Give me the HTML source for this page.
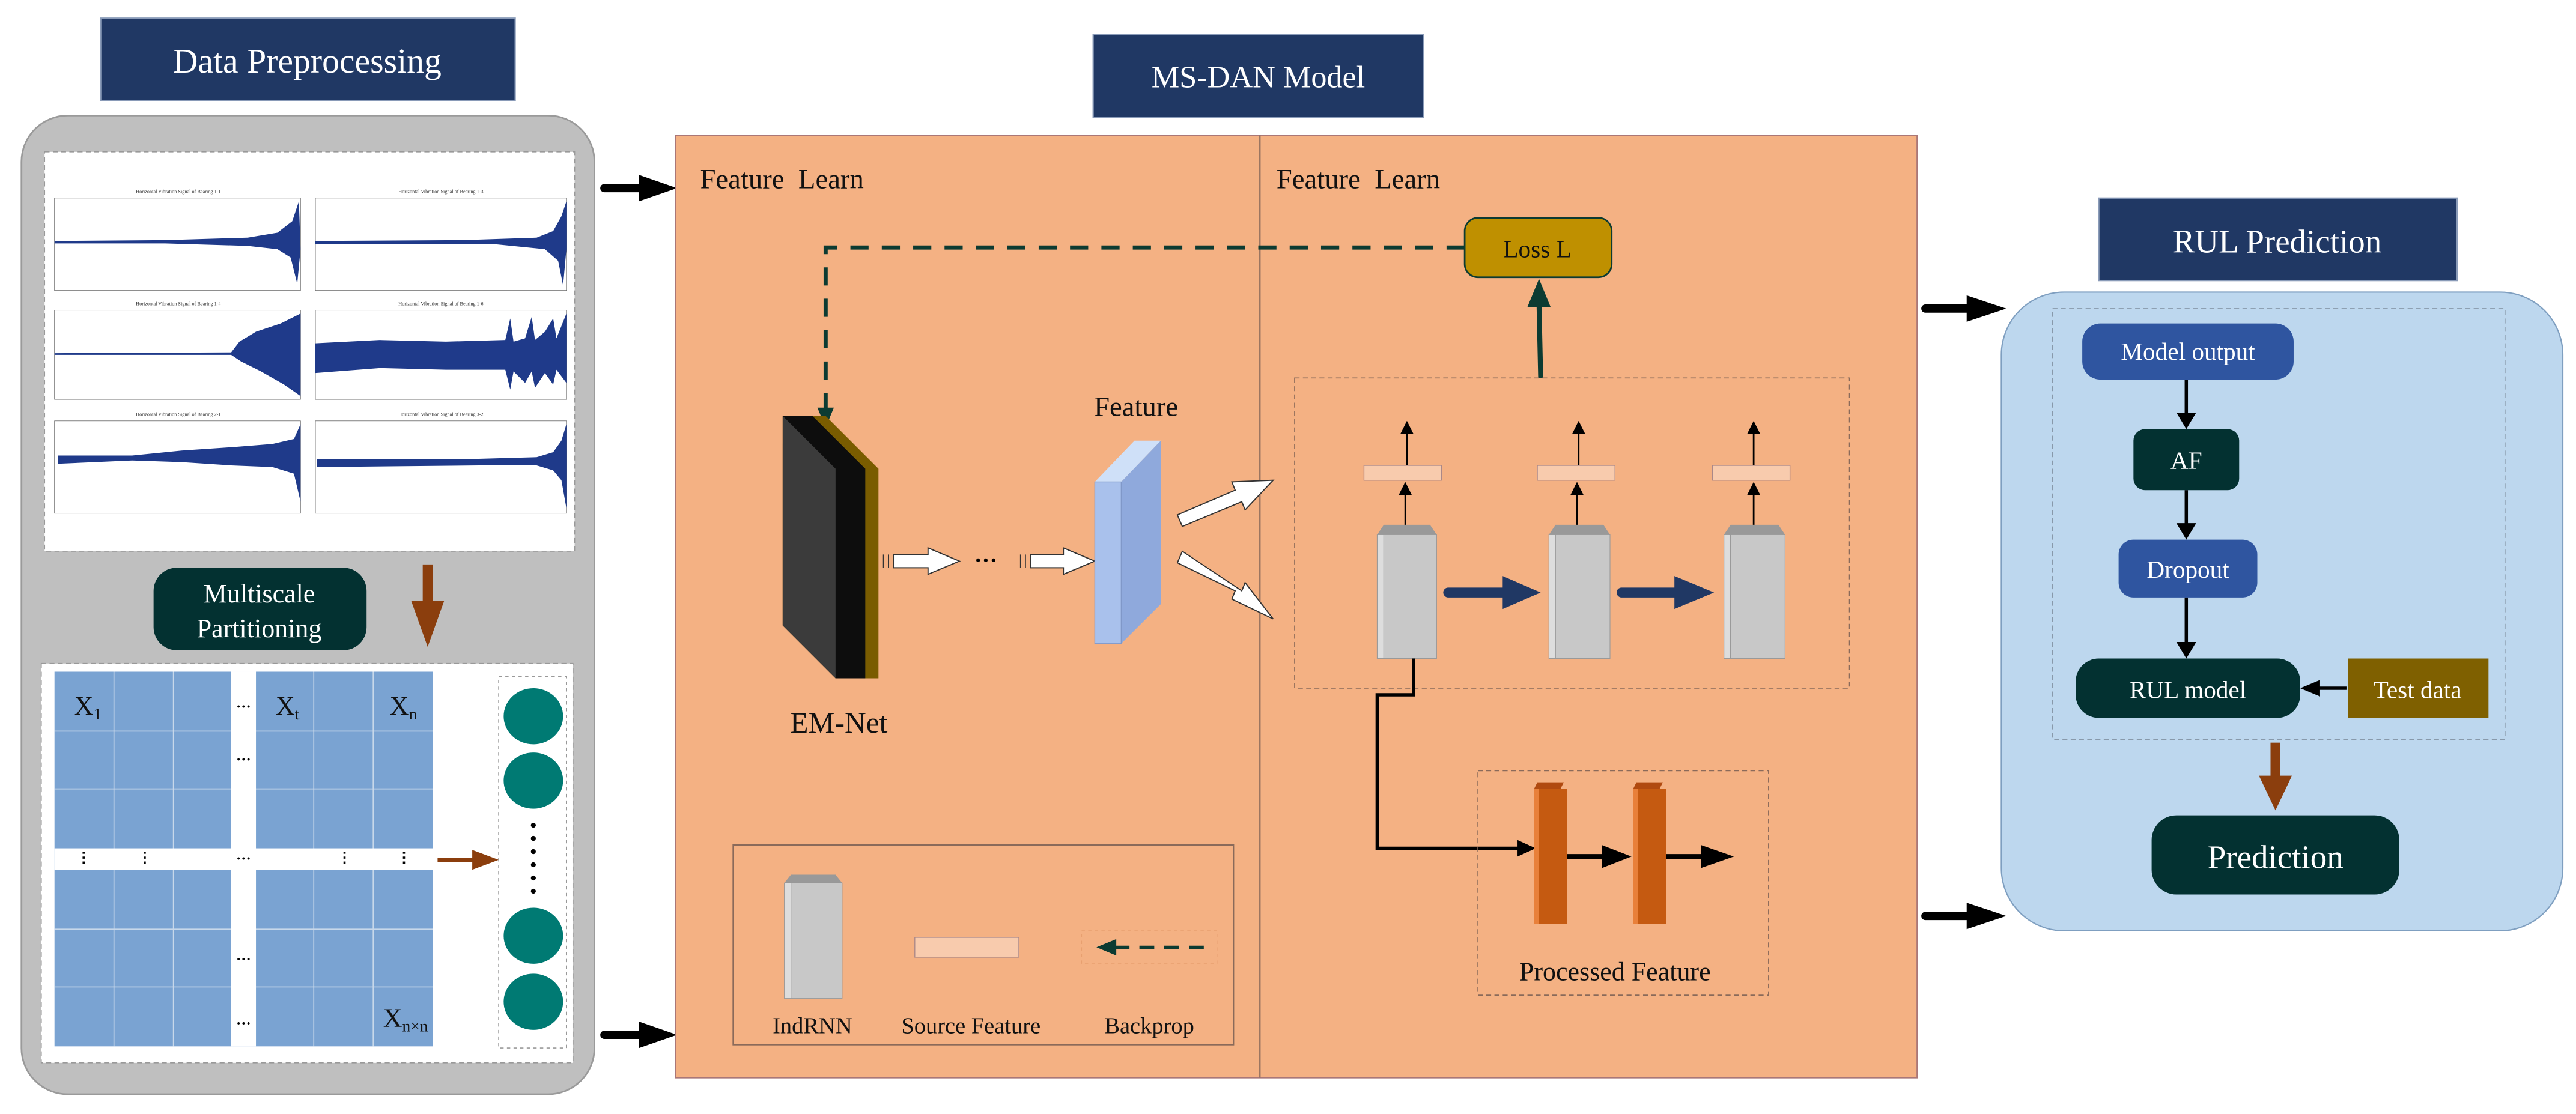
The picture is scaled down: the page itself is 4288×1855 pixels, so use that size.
<!DOCTYPE html>
<html><head><meta charset="utf-8"><style>
html,body{margin:0;padding:0;background:#fff;}
svg{display:block;}
svg text{font-family:"Liberation Serif","DejaVu Serif",serif !important;}
</style></head><body>
<svg width="4288" height="1855" viewBox="0 0 1560 675" preserveAspectRatio="none" xmlns="http://www.w3.org/2000/svg" font-family="Liberation Serif, serif">
<defs>
<marker id="ab" markerWidth="8" markerHeight="8" refX="7" refY="4" orient="auto" markerUnits="userSpaceOnUse"><path d="M0,0 L8,4 L0,8 z" fill="#000"/></marker>
</defs>

<!-- ===== Data Preprocessing ===== -->
<rect x="61" y="11" width="251" height="50" fill="#203864" stroke="#8a9bb8" stroke-width="0.8"/>
<text x="186" y="44" font-size="21" fill="#fff" text-anchor="middle">Data Preprocessing</text>
<rect x="13" y="70" width="347" height="593" rx="28" fill="#bfbfbf" stroke="#9a9a9a" stroke-width="1"/>
<rect x="27" y="92" width="321" height="242" fill="#fff" stroke="#999" stroke-width="0.6" stroke-dasharray="3,2"/>
<g font-size="3" fill="#333" text-anchor="middle">
<text x="108" y="117">Horizontal Vibration Signal of Bearing 1-1</text>
<text x="267" y="117">Horizontal Vibration Signal of Bearing 1-3</text>
<text x="108" y="185">Horizontal Vibration Signal of Bearing 1-4</text>
<text x="267" y="185">Horizontal Vibration Signal of Bearing 1-6</text>
<text x="108" y="252">Horizontal Vibration Signal of Bearing 2-1</text>
<text x="267" y="252">Horizontal Vibration Signal of Bearing 3-2</text>
</g>
<g fill="none" stroke="#666" stroke-width="0.3">
<rect x="33" y="120" width="149" height="56"/><rect x="191" y="120" width="152" height="56"/>
<rect x="33" y="188" width="149" height="54"/><rect x="191" y="188" width="152" height="54"/>
<rect x="33" y="255" width="149" height="56"/><rect x="191" y="255" width="152" height="56"/>
</g>
<g fill="#1f3a8a">
<polygon points="33,146 100,145.5 150,144 168,141 177,134 181,122 182,151 180,172 176,156 168,151 150,149 100,147.5 33,147.5"/>
<polygon points="191,146 280,145.5 325,144 335,140 340,131 343,122 343,151 341,173 338,158 330,151 300,148 191,148"/>
<polygon points="33,214 140,213.5 145,207 155,201 170,196 182,190 182,240 172,233 158,225 146,219 140,215 33,215"/>
<polygon points="191,208 230,206 270,207 306,206 309,193 311,207 318,205 322,192 324,206 330,201 335,193 337,205 343,190 343,232 337,224 335,233 330,226 324,235 322,225 318,232 311,225 309,236 306,224 270,224 230,223 191,226"/>
<polygon points="35,276 80,276 110,273 140,271 165,269 178,266 182,257 182,304 178,287 165,283 140,282 110,280 80,279 35,281"/>
<polygon points="192,278 290,278 325,277 335,274 340,267 343,257 343,308 340,291 335,285 325,282 290,282 192,283"/>
</g>
<!-- Multiscale partitioning -->
<rect x="93" y="344" width="129" height="50" rx="14" fill="#033131"/>
<text x="157" y="365" font-size="16" fill="#fff" text-anchor="middle">Multiscale</text>
<text x="157" y="386" font-size="16" fill="#fff" text-anchor="middle">Partitioning</text>
<rect x="256" y="342" width="6" height="24" fill="#8b3e0d"/>
<polygon points="249,364 269,364 259,392" fill="#8b3e0d"/>
<rect x="25" y="402" width="322" height="242" fill="#fff" stroke="#999" stroke-width="0.6" stroke-dasharray="3,2"/>
<rect x="33" y="407" width="229" height="227" fill="#7aa3d2"/>
<g stroke="#c8d8ea" stroke-width="0.6">
<line x1="69" y1="407" x2="69" y2="634"/><line x1="105" y1="407" x2="105" y2="634"/>
<line x1="190" y1="407" x2="190" y2="634"/><line x1="226" y1="407" x2="226" y2="634"/>
<line x1="33" y1="443" x2="262" y2="443"/><line x1="33" y1="478" x2="262" y2="478"/>
<line x1="33" y1="563" x2="262" y2="563"/><line x1="33" y1="598" x2="262" y2="598"/>
</g>
<rect x="140" y="407" width="15" height="227" fill="#fff"/>
<rect x="33" y="514" width="229" height="13" fill="#fff"/>
<g font-size="16" fill="#111">
<text x="45" y="433">X<tspan font-size="10" dy="3">1</tspan></text>
<text x="167" y="433">X<tspan font-size="10" dy="3">t</tspan></text>
<text x="236" y="433">X<tspan font-size="10" dy="3">n</tspan></text>
<text x="232" y="622">X<tspan font-size="10" dy="3">n×n</tspan></text>
</g>
<g font-size="9" fill="#000" text-anchor="middle" font-weight="bold">
<text x="147.5" y="431">···</text><text x="147.5" y="463">···</text><text x="147.5" y="523">···</text><text x="147.5" y="584">···</text><text x="147.5" y="623">···</text>
</g>
<g fill="#000"><rect x="50" y="516" width="1.3" height="1.3"/><rect x="50" y="519" width="1.3" height="1.3"/><rect x="50" y="522" width="1.3" height="1.3"/>
<rect x="87" y="516" width="1.3" height="1.3"/><rect x="87" y="519" width="1.3" height="1.3"/><rect x="87" y="522" width="1.3" height="1.3"/>
<rect x="208" y="516" width="1.3" height="1.3"/><rect x="208" y="519" width="1.3" height="1.3"/><rect x="208" y="522" width="1.3" height="1.3"/>
<rect x="244" y="516" width="1.3" height="1.3"/><rect x="244" y="519" width="1.3" height="1.3"/><rect x="244" y="522" width="1.3" height="1.3"/></g>
<line x1="265" y1="521" x2="288" y2="521" stroke="#8b3e0d" stroke-width="2.5"/>
<polygon points="286,515 302,521 286,527" fill="#8b3e0d"/>
<rect x="302" y="410" width="41" height="225" fill="#fff" stroke="#999" stroke-width="0.6" stroke-dasharray="2,2"/>
<g fill="#007a73"><ellipse cx="323" cy="434" rx="18" ry="17"/><ellipse cx="323" cy="473" rx="18" ry="17"/><ellipse cx="323" cy="567" rx="18" ry="17"/><ellipse cx="323" cy="607" rx="18" ry="17"/></g>
<g fill="#000"><circle cx="323" cy="500" r="1.5"/><circle cx="323" cy="508" r="1.5"/><circle cx="323" cy="516" r="1.5"/><circle cx="323" cy="524" r="1.5"/><circle cx="323" cy="532" r="1.5"/><circle cx="323" cy="540" r="1.5"/></g>

<!-- arrows into model -->
<line x1="366" y1="114" x2="390" y2="114" stroke="#000" stroke-width="5" stroke-linecap="round"/>
<polygon points="387,106 410,114 387,122" fill="#000"/>
<line x1="366" y1="627" x2="390" y2="627" stroke="#000" stroke-width="5" stroke-linecap="round"/>
<polygon points="387,619 410,627 387,635" fill="#000"/>

<!-- ===== MS-DAN ===== -->
<rect x="662" y="21" width="200" height="50" fill="#203864" stroke="#8a9bb8" stroke-width="0.8"/>
<text x="762" y="53" font-size="19" fill="#fff" text-anchor="middle">MS-DAN Model</text>
<rect x="409" y="82" width="752" height="571" fill="#f4b183" stroke="#a77" stroke-width="0.8"/>
<line x1="763" y1="82" x2="763" y2="653" stroke="#8a6a5a" stroke-width="0.8"/>
<text x="424" y="114" font-size="17" fill="#111" xml:space="preserve">Feature  Learn</text>
<text x="773" y="114" font-size="17" fill="#111" xml:space="preserve">Feature  Learn</text>
<!-- Loss -->
<rect x="887" y="132" width="89" height="36" rx="8" fill="#bf9000" stroke="#0c3b32" stroke-width="1"/>
<text x="931" y="156" font-size="15" fill="#111" text-anchor="middle">Loss L</text>
<polyline points="887,150 500,150 500,248" fill="none" stroke="#0c3b32" stroke-width="2.5" stroke-dasharray="11,8"/>
<polygon points="495,247 505,247 500,259" fill="#0c3b32"/>
<line x1="933" y1="229" x2="932" y2="184" stroke="#0c3b32" stroke-width="3"/>
<polygon points="925,186 939,186 932,169" fill="#0c3b32"/>
<!-- EM-Net -->
<polygon points="474,252 500,252 532,284 532,411 506,411 474,379" fill="#7a5c00"/>
<polygon points="474,252 492,252 524,284 524,411 506,411 474,379" fill="#0d0d0d"/>
<polygon points="474,252 506,284 506,411 474,379" fill="#3b3b3b"/>
<text x="508" y="444" font-size="18" fill="#111" text-anchor="middle">EM-Net</text>
<!-- white arrows -->
<g fill="#fff" stroke="#333" stroke-width="0.7">
<polygon points="541,336 562,336 562,332 581,340 562,348 562,344 541,344"/>
<polygon points="624,336 644,336 644,332 663,340 644,348 644,344 624,344"/>
</g>
<g stroke="#333" stroke-width="0.6"><line x1="535" y1="336" x2="535" y2="344"/><line x1="538" y1="336" x2="538" y2="344"/><line x1="618" y1="336" x2="618" y2="344"/><line x1="621" y1="336" x2="621" y2="344"/></g>
<text x="597" y="344" font-size="14" fill="#000" text-anchor="middle" font-weight="bold">···</text>
<!-- Feature block -->
<polygon points="663,292 687,267 703,267 679,292" fill="#cfe0f8"/>
<polygon points="679,292 703,267 703,366 679,390" fill="#8fa9dc"/>
<rect x="663" y="292" width="16" height="98" fill="#a9c1ec" stroke="#8098c8" stroke-width="0.5"/>
<text x="688" y="252" font-size="17" fill="#111" text-anchor="middle">Feature</text>
<g fill="#fff" stroke="#333" stroke-width="0.7">
<polygon points="713,312 748,297 746,292 771,291 754,309 752,304 716,319"/>
<polygon points="713,341 748,358 746,363 771,375 754,353 752,358 716,334"/>
</g>
<!-- right dashed box -->
<rect x="784" y="229" width="336" height="188" fill="none" stroke="#8a6a5a" stroke-width="0.6" stroke-dasharray="3,2"/>
<g>
<polygon points="834,324 838,318 866,318 870,324" fill="#999"/>
<rect x="834" y="324" width="4" height="75" fill="#ddd" stroke="#999" stroke-width="0.4"/>
<rect x="838" y="324" width="32" height="75" fill="#c8c8c8" stroke="#999" stroke-width="0.4"/>
<polygon points="938,324 942,318 971,318 975,324" fill="#999"/>
<rect x="938" y="324" width="4" height="75" fill="#ddd" stroke="#999" stroke-width="0.4"/>
<rect x="942" y="324" width="33" height="75" fill="#c8c8c8" stroke="#999" stroke-width="0.4"/>
<polygon points="1044,324 1048,318 1077,318 1081,324" fill="#999"/>
<rect x="1044" y="324" width="4" height="75" fill="#ddd" stroke="#999" stroke-width="0.4"/>
<rect x="1048" y="324" width="33" height="75" fill="#c8c8c8" stroke="#999" stroke-width="0.4"/>
</g>
<g fill="#f8cbad" stroke="#a88" stroke-width="0.5">
<rect x="826" y="282" width="47" height="9"/><rect x="931" y="282" width="47" height="9"/><rect x="1037" y="282" width="47" height="9"/>
</g>
<g stroke="#000" stroke-width="1">
<line x1="851" y1="318" x2="851" y2="293" marker-end="url(#ab)"/><line x1="852" y1="282" x2="852" y2="256" marker-end="url(#ab)"/>
<line x1="955" y1="318" x2="955" y2="293" marker-end="url(#ab)"/><line x1="956" y1="282" x2="956" y2="256" marker-end="url(#ab)"/>
<line x1="1062" y1="318" x2="1062" y2="293" marker-end="url(#ab)"/><line x1="1062" y1="282" x2="1062" y2="256" marker-end="url(#ab)"/>
</g>
<line x1="877" y1="359" x2="912" y2="359" stroke="#203864" stroke-width="6" stroke-linecap="round"/>
<polygon points="910,349 933,359 910,369" fill="#203864"/>
<line x1="982" y1="359" x2="1016" y2="359" stroke="#203864" stroke-width="6" stroke-linecap="round"/>
<polygon points="1014,349 1038,359 1014,369" fill="#203864"/>
<!-- black connector -->
<polyline points="856,399 856,421 834,421 834,514 921,514" fill="none" stroke="#000" stroke-width="2"/>
<polygon points="919,509 930,514 919,519" fill="#000"/>
<!-- processed feature -->
<rect x="895" y="467" width="176" height="136" fill="none" stroke="#8a6a5a" stroke-width="0.6" stroke-dasharray="3,2"/>
<polygon points="929,478 931,474 947,474 945,478" fill="#b04a10"/>
<rect x="929" y="478" width="3" height="82" fill="#e8803a"/>
<rect x="932" y="478" width="17" height="82" fill="#c55a11"/>
<polygon points="989,478 991,474 1007,474 1005,478" fill="#b04a10"/>
<rect x="989" y="478" width="3" height="82" fill="#e8803a"/>
<rect x="992" y="478" width="17" height="82" fill="#c55a11"/>
<line x1="949" y1="519" x2="972" y2="519" stroke="#000" stroke-width="3"/>
<polygon points="970,512 988,519 970,526" fill="#000"/>
<line x1="1009" y1="519" x2="1032" y2="519" stroke="#000" stroke-width="3"/>
<polygon points="1030,512 1050,519 1030,526" fill="#000"/>
<text x="978" y="594" font-size="16" fill="#111" text-anchor="middle">Processed Feature</text>
<!-- legend -->
<rect x="444" y="512" width="303" height="121" fill="none" stroke="#8a6a5a" stroke-width="0.8"/>
<polygon points="475,535 479,530 506,530 510,535" fill="#999"/>
<rect x="475" y="535" width="4" height="70" fill="#ddd" stroke="#999" stroke-width="0.4"/>
<rect x="479" y="535" width="31" height="70" fill="#c8c8c8" stroke="#999" stroke-width="0.4"/>
<rect x="554" y="568" width="63" height="12" fill="#f8cbad" stroke="#a88" stroke-width="0.5"/>
<rect x="655" y="564" width="82" height="20" fill="none" stroke="#e8a070" stroke-width="0.5" stroke-dasharray="2,2"/>
<line x1="675" y1="574" x2="734" y2="574" stroke="#0c3b32" stroke-width="2" stroke-dasharray="9,6"/>
<polygon points="676,569 664,574 676,579" fill="#0c3b32"/>
<g font-size="14" fill="#111" text-anchor="middle">
<text x="492" y="626">IndRNN</text><text x="588" y="626">Source Feature</text><text x="696" y="626">Backprop</text>
</g>

<!-- arrows into RUL -->
<line x1="1166" y1="187" x2="1194" y2="187" stroke="#000" stroke-width="5" stroke-linecap="round"/>
<polygon points="1191,179 1215,187 1191,195" fill="#000"/>
<line x1="1166" y1="555" x2="1194" y2="555" stroke="#000" stroke-width="5" stroke-linecap="round"/>
<polygon points="1191,547 1215,555 1191,563" fill="#000"/>

<!-- ===== RUL ===== -->
<rect x="1271" y="120" width="217" height="50" fill="#203864" stroke="#8a9bb8" stroke-width="0.8"/>
<text x="1379" y="153" font-size="20" fill="#fff" text-anchor="middle">RUL Prediction</text>
<rect x="1212" y="177" width="340" height="387" rx="38" fill="#bdd7ee" stroke="#7f9fc0" stroke-width="0.8"/>
<rect x="1243" y="187" width="274" height="261" fill="none" stroke="#8899aa" stroke-width="0.6" stroke-dasharray="3,2"/>
<rect x="1261" y="196" width="128" height="34" rx="11" fill="#2f55a0"/>
<text x="1325" y="218" font-size="15" fill="#fff" text-anchor="middle">Model output</text>
<rect x="1292" y="260" width="64" height="37" rx="7" fill="#033131"/>
<text x="1324" y="284" font-size="15" fill="#fff" text-anchor="middle">AF</text>
<rect x="1283" y="327" width="84" height="35" rx="9" fill="#2f55a0"/>
<text x="1325" y="350" font-size="15" fill="#fff" text-anchor="middle">Dropout</text>
<rect x="1257" y="399" width="136" height="36" rx="14" fill="#033131"/>
<text x="1325" y="423" font-size="15" fill="#fff" text-anchor="middle">RUL model</text>
<rect x="1422" y="399" width="85" height="36" fill="#7f6000"/>
<text x="1464" y="423" font-size="15" fill="#fff" text-anchor="middle">Test data</text>
<g stroke="#000" stroke-width="2">
<line x1="1324" y1="230" x2="1324" y2="252"/><line x1="1324" y1="297" x2="1324" y2="319"/><line x1="1324" y1="362" x2="1324" y2="391"/>
<line x1="1421" y1="417" x2="1403" y2="417"/>
</g>
<g fill="#000">
<polygon points="1318,250 1330,250 1324,260"/><polygon points="1318,317 1330,317 1324,327"/><polygon points="1318,389 1330,389 1324,399"/>
<polygon points="1405,412 1405,422 1393,417"/>
</g>
<rect x="1375" y="450" width="6" height="22" fill="#8b3e0d"/>
<polygon points="1368,470 1388,470 1378,491" fill="#8b3e0d"/>
<rect x="1303" y="494" width="150" height="48" rx="15" fill="#033131"/>
<text x="1378" y="526" font-size="20" fill="#fff" text-anchor="middle">Prediction</text>
</svg>
</body></html>
